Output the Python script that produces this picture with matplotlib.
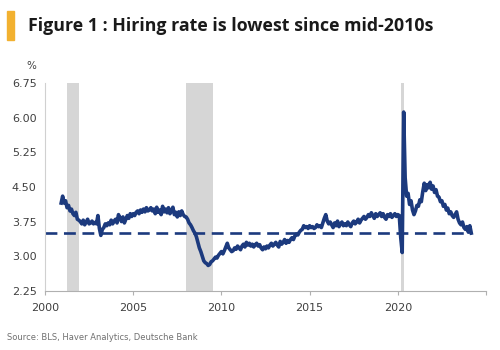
import numpy as np
import matplotlib
matplotlib.use("Agg")
import matplotlib.pyplot as plt
from matplotlib.patches import Rectangle

# ---- data: monthly hiring rate (%), Dec 2000 .. Mar 2024 ----
start_year = 2000 + 11 / 12
hires = [
    4.15,
    4.30, 4.15, 4.20, 4.05, 4.10, 3.98, 4.02, 3.92, 3.88, 3.95, 3.80, 3.78,  # 2001
    3.75, 3.70, 3.78, 3.68, 3.74, 3.80, 3.70, 3.72, 3.76, 3.70, 3.73, 3.70,  # 2002
    3.88, 3.60, 3.45, 3.58, 3.62, 3.70, 3.66, 3.72, 3.68, 3.78, 3.70, 3.76,  # 2003
    3.80, 3.72, 3.90, 3.82, 3.75, 3.85, 3.72, 3.80, 3.88, 3.82, 3.92, 3.86,  # 2004
    3.92, 3.88, 3.95, 3.98, 3.92, 4.00, 3.95, 4.02, 3.96, 4.05, 3.98, 4.00,  # 2005
    4.05, 3.98, 4.02, 3.92, 4.06, 3.95, 4.00, 3.90, 4.08, 3.96, 4.02, 3.94,  # 2006
    4.05, 3.92, 3.98, 4.06, 3.90, 3.95, 3.85, 3.96, 3.88, 3.98, 3.90, 3.86,  # 2007
    3.85, 3.80, 3.72, 3.68, 3.62, 3.55, 3.50, 3.42, 3.30, 3.18, 3.10, 3.00,  # 2008
    2.90, 2.86, 2.84, 2.80, 2.82, 2.88, 2.90, 2.94, 2.98, 2.96, 3.02, 3.06,  # 2009
    3.10, 3.05, 3.12, 3.20, 3.28, 3.18, 3.14, 3.10, 3.12, 3.18, 3.15, 3.22,  # 2010
    3.18, 3.14, 3.22, 3.26, 3.20, 3.30, 3.24, 3.28, 3.22, 3.26, 3.20, 3.25,  # 2011
    3.28, 3.22, 3.25, 3.18, 3.14, 3.20, 3.16, 3.22, 3.18, 3.24, 3.28, 3.22,  # 2012
    3.26, 3.30, 3.24, 3.20, 3.32, 3.26, 3.30, 3.36, 3.28, 3.34, 3.30, 3.36,  # 2013
    3.40, 3.36, 3.44, 3.48, 3.46, 3.52, 3.56, 3.58, 3.66, 3.62, 3.64, 3.60,  # 2014
    3.66, 3.62, 3.64, 3.60, 3.62, 3.68, 3.64, 3.66, 3.62, 3.72, 3.82, 3.90,  # 2015
    3.76, 3.70, 3.74, 3.68, 3.62, 3.72, 3.66, 3.76, 3.64, 3.70, 3.74, 3.66,  # 2016
    3.70, 3.66, 3.74, 3.68, 3.64, 3.72, 3.76, 3.70, 3.74, 3.80, 3.72, 3.78,  # 2017
    3.82, 3.86, 3.80, 3.84, 3.90, 3.86, 3.94, 3.88, 3.82, 3.92, 3.86, 3.90,  # 2018
    3.94, 3.86, 3.92, 3.84, 3.80, 3.90, 3.86, 3.92, 3.84, 3.88, 3.92, 3.86,  # 2019
    3.90, 3.88, 3.40, 3.08, 6.12, 4.70, 4.30, 4.36, 4.12, 4.20, 4.00, 3.90,  # 2020
    3.98, 4.10, 4.08, 4.22, 4.18, 4.40, 4.58, 4.42, 4.55, 4.48, 4.60, 4.45,  # 2021
    4.52, 4.38, 4.44, 4.30, 4.28, 4.18, 4.20, 4.08, 4.12, 4.00, 4.04, 3.92,  # 2022
    3.96, 3.88, 3.84, 3.90, 3.96, 3.80, 3.72, 3.68, 3.74, 3.62, 3.58, 3.64,  # 2023
    3.52, 3.66, 3.50,                                                        # 2024
]
dates = start_year + np.arange(len(hires)) / 12

recessions = [(2001.25, 2001.92), (2008.0, 2009.5), (2020.17, 2020.33)]
threshold = 3.5

y_ticks = [2.25, 3.00, 3.75, 4.50, 5.25, 6.00, 6.75]
x_ticks = [2000, 2005, 2010, 2015, 2020]

NAVY = "#1c3a7e"
TXT = "#404040"

fig = plt.figure(figsize=(5, 3.5), dpi=100)
ax = fig.add_axes([0.09, 0.169, 0.882, 0.594])

for a, b in recessions:
    ax.axvspan(a, b, color="#d6d6d6", lw=0, zorder=0)

ax.hlines(threshold, 2000, dates[-1], color=NAVY, lw=1.9, ls=(0, (4.5, 2.5)), zorder=2)
ax.plot(dates, hires, color=NAVY, lw=2.6, zorder=3)

ax.set_xlim(2000, 2025)
ax.set_ylim(2.25, 6.75)
ax.set_yticks(y_ticks)
ax.set_yticklabels([f"{v:.2f}" for v in y_ticks])
ax.set_xticks(x_ticks + [2025])
ax.set_xticklabels([str(v) for v in x_ticks] + [""])

for s in ["top", "right"]:
    ax.spines[s].set_visible(False)
ax.spines["left"].set_color("#d0d0d0")
ax.spines["bottom"].set_color("#b0b0b0")
ax.tick_params(axis="y", length=0, labelsize=8, labelcolor=TXT, pad=6)
ax.tick_params(axis="x", length=3, color="#b0b0b0", labelsize=8,
               labelcolor=TXT, pad=6)

fig.text(0.062, 0.811, "%", fontsize=7.5, color=TXT, ha="center", va="center")

# title with orange marker
fig.patches.append(Rectangle((0.014, 0.885), 0.014, 0.085, transform=fig.transFigure,
                             color="#f2b130", zorder=5))
fig.text(0.056, 0.925, "Figure 1 : Hiring rate is lowest since mid-2010s",
         fontsize=12.8, fontweight="bold", color="#1a1a1a",
         family="Open Sans", va="center")

fig.text(0.014, 0.035, "Source: BLS, Haver Analytics, Deutsche Bank",
         fontsize=6, color="#707070", va="center")

fig.savefig("out.png", dpi=100)
